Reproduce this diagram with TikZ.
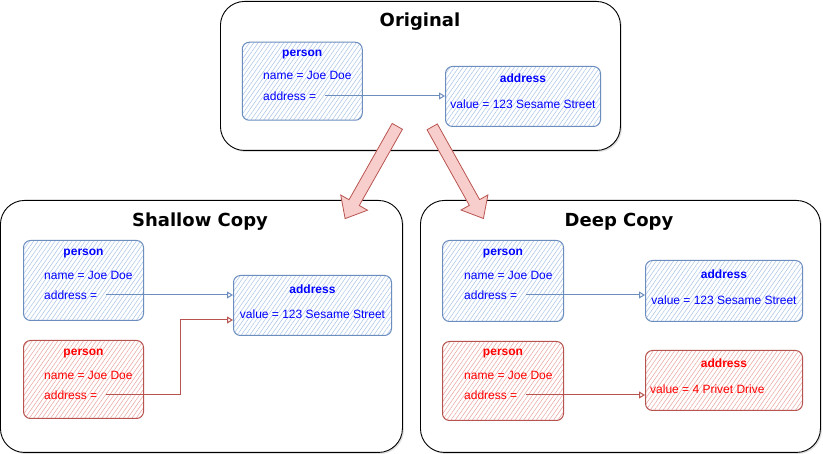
\documentclass[tikz,border=0pt]{standalone}
\usepackage{fontspec}
\setmainfont{Liberation Sans}
\newfontfamily\titlefont{DejaVu Sans}
\usetikzlibrary{calc,arrows.meta,shapes.arrows,shadows,patterns.meta}

\definecolor{blueLine}{HTML}{6C8EBF}
\definecolor{blueHatch}{HTML}{A9C3E8}
\definecolor{blueText}{HTML}{0000FF}
\definecolor{redLine}{HTML}{B85450}
\definecolor{redHatch}{HTML}{E8A3A0}
\definecolor{redText}{HTML}{FF0000}
\definecolor{redFill}{HTML}{F8CECC}

\tikzset{
  panel/.style={draw, line width=0.9pt, rounded corners=24pt, fill=white,
    anchor=north west, inner sep=0pt,
    drop shadow={shadow xshift=1.5pt, shadow yshift=-1.5pt, opacity=0.25}},
  paneltitle/.style={font=\titlefont\bfseries\fontsize{18}{20}\selectfont, inner sep=0pt},
  obj/.style={draw, line width=1pt, rounded corners=7pt, anchor=north west, inner sep=0pt},
  blueobj/.style={obj, draw=blueLine,
    pattern={Lines[angle=55, distance=3.5pt, line width=0.5pt]}, pattern color=blueHatch},
  redobj/.style={obj, draw=redLine,
    pattern={Lines[angle=55, distance=3.5pt, line width=0.5pt]}, pattern color=redHatch},
  head/.style={font=\fontsize{12}{14}\selectfont\bfseries, inner sep=0pt},
  field/.style={font=\fontsize{12}{14}\selectfont, inner sep=0pt, anchor=west},
  link/.style={line width=1pt, -{Triangle[open, length=6pt, width=7pt]}},
  bigarrow/.style={single arrow, draw=redLine, fill=redFill, line width=0.8pt,
    minimum width=30pt, single arrow head extend=9.5pt, single arrow tip angle=80,
    inner xsep=0pt, inner ysep=5.5pt, anchor=tail}
}

\begin{document}
\begin{tikzpicture}[x=1pt, y=-1pt]
\useasboundingbox (0,0) rectangle (823,454);

% ===== TOP: Original =====
\begin{scope}
  \node[panel, minimum width=400pt, minimum height=149pt] (orig) at (220,1) {};
  \node[paneltitle] (orig-t) at (420,22) {Original};

  \node[blueobj, minimum width=120pt, minimum height=78pt] (op) at (242,42) {};
  \node[head, blueText] (op-h) at ($(op.north)+(0,13)$) {person};
  \node[field, blueText] (op-name) at ($(op.north west)+(21,33)$) {name = Joe Doe};
  \node[field, blueText] (op-ref) at ($(op.north west)+(21,54)$) {address =};

  \node[blueobj, minimum width=155pt, minimum height=60pt] (oa) at (445,66) {};
  \node[head, blueText] (oa-h) at ($(oa.north)+(0,12)$) {address};
  \node[field, blueText, anchor=center] (oa-val) at ($(oa.north)+(0,38)$) {value = 123 Sesame Street};

  \draw[link, blueLine] ([xshift=9pt]op-ref.east) -- (op-ref.east -| oa.west);
\end{scope}

% ===== LEFT: Shallow copy =====
\begin{scope}
  \node[panel, minimum width=402pt, minimum height=252pt] (shallow) at (0,200) {};
  \node[paneltitle] (shallow-t) at (200,222) {Shallow Copy};

  \node[blueobj, minimum width=120pt, minimum height=80pt] (sp) at (23,240) {};
  \node[head, blueText] (sp-h) at ($(sp.north)+(0,14)$) {person};
  \node[field, blueText] (sp-name) at ($(sp.north west)+(21,35)$) {name = Joe Doe};
  \node[field, blueText] (sp-ref) at ($(sp.north west)+(21,55)$) {address =};

  \node[redobj, minimum width=120pt, minimum height=78pt] (sr) at (23,340) {};
  \node[head, redText] (sr-h) at ($(sr.north)+(0,14)$) {person};
  \node[field, redText] (sr-name) at ($(sr.north west)+(21,35)$) {name = Joe Doe};
  \node[field, redText] (sr-ref) at ($(sr.north west)+(21,55)$) {address =};

  \node[blueobj, minimum width=158pt, minimum height=60pt] (sa) at (233,275) {};
  \node[head, blueText] (sa-h) at ($(sa.north)+(0,14)$) {address};
  \node[field, blueText, anchor=center] (sa-val) at ($(sa.north)+(0,39)$) {value = 123 Sesame Street};

  \coordinate (s-bend) at (180,320);
  \draw[link, blueLine] ([xshift=9pt]sp-ref.east) -- (sp-ref.east -| sa.west);
  \draw[link, redLine] ([xshift=9pt]sr-ref.east) -| (s-bend) -- (s-bend -| sa.west);
\end{scope}

% ===== RIGHT: Deep copy =====
\begin{scope}
  \node[panel, minimum width=400pt, minimum height=252pt] (deep) at (420,200) {};
  \node[paneltitle] (deep-t) at (619,222) {Deep Copy};

  \node[blueobj, minimum width=121pt, minimum height=81pt] (dp) at (442,240) {};
  \node[head, blueText] (dp-h) at ($(dp.north)+(0,14)$) {person};
  \node[field, blueText] (dp-name) at ($(dp.north west)+(22,35)$) {name = Joe Doe};
  \node[field, blueText] (dp-ref) at ($(dp.north west)+(22,55)$) {address =};

  \node[redobj, minimum width=121pt, minimum height=79pt] (dr) at (442,341) {};
  \node[head, redText] (dr-h) at ($(dr.north)+(0,13)$) {person};
  \node[field, redText] (dr-name) at ($(dr.north west)+(22,34)$) {name = Joe Doe};
  \node[field, redText] (dr-ref) at ($(dr.north west)+(22,54)$) {address =};

  \node[blueobj, minimum width=157pt, minimum height=61pt] (da) at (645,260) {};
  \node[head, blueText] (da-h) at ($(da.north)+(0,14)$) {address};
  \node[field, blueText, anchor=center] (da-val) at ($(da.north)+(0,40)$) {value = 123 Sesame Street};

  \node[redobj, minimum width=157pt, minimum height=60pt] (dra) at (645,350) {};
  \node[head, redText] (dra-h) at ($(dra.north)+(0,13)$) {address};
  \node[field, redText] (dra-val) at ($(dra.north west)+(5,39)$) {value = 4 Privet Drive};

  \draw[link, blueLine] ([xshift=9pt]dp-ref.east) -- (dp-ref.east -| da.west);
  \draw[link, redLine] ([xshift=9pt]dr-ref.east) -- (dr-ref.east -| dra.west);
\end{scope}

% ===== copy arrows =====
\node[bigarrow, minimum height=106pt, rotate=-119.5] (to-shallow) at (397.5,126) {};
\node[bigarrow, minimum height=105pt, rotate=-60.8] (to-deep) at (432,126.5) {};

\end{tikzpicture}
\end{document}
